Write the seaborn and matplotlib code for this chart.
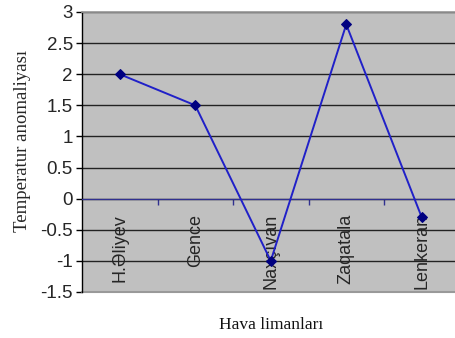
import matplotlib
matplotlib.use("Agg")
import matplotlib.pyplot as plt
import seaborn as sns
import pandas as pd
from matplotlib.ticker import FixedLocator, NullFormatter

# Airports and their temperature anomalies
airports = ["H.Əliyev", "Gence", "Naxçıvan", "Zaqatala", "Lenkeran"]
anomalies = [2.0, 1.5, -1.0, 2.8, -0.3]
y_ticks = [-1.5, -1, -0.5, 0, 0.5, 1, 1.5, 2, 2.5, 3]
y_tick_labels = ["-1.5", "-1", "-0.5", "0", "0.5", "1", "1.5", "2", "2.5", "3"]

df = pd.DataFrame({"airport": airports, "anomaly": anomalies})

sns.set_theme(style="white")
plt.rcParams["font.family"] = ["Liberation Sans", "DejaVu Sans"]

fig = plt.figure(figsize=(4.55, 3.38), dpi=100)
ax = fig.add_axes([82 / 455, 1 - 292 / 338, 377.5 / 455, 280 / 338])
ax.set_facecolor("#c0c0c0")

sns.lineplot(data=df, x="airport", y="anomaly", ax=ax, sort=False,
             color="#2020c8", linewidth=1.4, marker="D", markersize=5.5,
             markerfacecolor="#000080", markeredgecolor="#000080", zorder=4)

ax.set_xlim(-0.5, len(airports) - 0.5)
ax.set_ylim(-1.5, 3)

# y axis
ax.yaxis.set_major_locator(FixedLocator(y_ticks))
ax.set_yticklabels(y_tick_labels)
ax.tick_params(axis="y", which="major", direction="out", length=4.5, width=1,
               color="black", labelsize=13.5, pad=2, left=True)
ax.grid(axis="y", color="#222222", linewidth=1.0, zorder=1)
ax.grid(axis="x", visible=False)

# x axis sits on zero, tick marks between categories, labels centred
ax.spines["bottom"].set_position(("data", 0))
ax.spines["bottom"].set_color("#303090")
ax.spines["bottom"].set_linewidth(0.9)
ax.spines["bottom"].set_zorder(3)
ax.xaxis.set_major_locator(FixedLocator([i + 0.5 for i in range(len(airports) - 1)]))
ax.xaxis.set_major_formatter(NullFormatter())
ax.set_xticks(range(len(airports)), minor=True)
ax.set_xticklabels(airports, minor=True, rotation=90, va="top", ha="center")
ax.tick_params(axis="x", which="major", direction="out", length=4, width=1,
               color="#303090", bottom=True)
ax.tick_params(axis="x", which="minor", length=0, labelsize=13, pad=11,
               bottom=True)

ax.spines["left"].set_color("black")
ax.spines["left"].set_linewidth(1.0)
ax.spines["top"].set_color("#999999")
ax.spines["right"].set_visible(False)

ax.set_xlabel("")
ax.set_ylabel("Temperatur anomaliyası", family=["Liberation Serif"], fontsize=13.5)
ax.yaxis.set_label_coords(-0.135, 0.54)

ax.text(0.5, -0.118, "Hava limanları", transform=ax.transAxes,
        family=["Liberation Serif"], fontsize=12.5, ha="center", va="center",
        color="#111111")

# bottom border of the plot area
ax.axhline(-1.5, color="#999999", linewidth=1.5, zorder=2, clip_on=False)

fig.savefig("out.png", dpi=100)
